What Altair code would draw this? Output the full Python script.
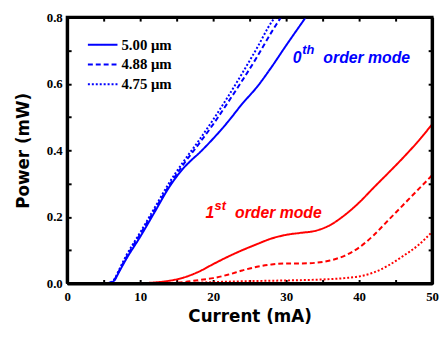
import altair as alt
import pandas as pd

# ---- data ----
I_500 = [0, 5, 6, 6.5, 7, 8, 10, 12, 14, 16, 17, 18, 20, 22, 24, 26, 28, 30, 32, 32.7]
P_500 = [0, 0, 0.003, 0.01, 0.03, 0.07, 0.14, 0.215, 0.29, 0.348, 0.37, 0.39, 0.435, 0.485, 0.54, 0.59, 0.65, 0.715, 0.778, 0.8]
I_488 = [0, 5, 6, 6.5, 7, 8, 10, 12, 14, 16, 18, 20, 22, 24, 26, 28, 29.3]
P_488 = [0, 0, 0.003, 0.012, 0.033, 0.075, 0.148, 0.222, 0.295, 0.36, 0.418, 0.478, 0.543, 0.61, 0.68, 0.755, 0.8]
I_475 = [0, 5, 6, 6.5, 7, 8, 10, 12, 14, 16, 18, 20, 22, 24, 26, 28, 28.5]
P_475 = [0, 0, 0.004, 0.014, 0.036, 0.08, 0.153, 0.228, 0.303, 0.368, 0.428, 0.492, 0.56, 0.632, 0.707, 0.785, 0.8]

I1_500 = [0, 10, 12, 14, 16, 18, 20, 22, 24, 26, 28, 30, 32, 34, 36, 38, 40, 42, 44, 46, 48, 50]
P1_500 = [0, 0.001, 0.003, 0.008, 0.018, 0.035, 0.058, 0.08, 0.1, 0.118, 0.135, 0.146, 0.152, 0.158, 0.175, 0.205, 0.243, 0.288, 0.332, 0.377, 0.425, 0.478]
I1_488 = [0, 14, 16, 18, 20, 22, 24, 26, 28, 30, 32, 34, 36, 38, 40, 42, 44, 46, 48, 50]
P1_488 = [0, 0.001, 0.004, 0.01, 0.016, 0.026, 0.039, 0.05, 0.057, 0.06, 0.06, 0.062, 0.069, 0.083, 0.108, 0.145, 0.19, 0.235, 0.28, 0.325]
I1_475 = [0, 16, 20, 25, 30, 35, 38, 40, 42, 44, 46, 48, 50]
P1_475 = [0, 0.001, 0.004, 0.007, 0.009, 0.012, 0.016, 0.021, 0.033, 0.054, 0.082, 0.113, 0.155]

widths = ["5.00 \u03bcm", "4.88 \u03bcm", "4.75 \u03bcm"]
modes = ["0th", "1st"]

x_dom = [0, 50]
y_dom = [0, 0.8]
x_ticks = [0, 5, 10, 15, 20, 25, 30, 35, 40, 45, 50]
y_ticks = [0.0, 0.1, 0.2, 0.3, 0.4, 0.5, 0.6, 0.7, 0.8]

# annotation text pieces (data coordinates)
ann_text = ["0", "th", "order mode", "1", "st", "order mode"]
ann_x = [30.9, 32.2, 35.1, 18.95, 20.2, 23.0]
ann_y = [0.663, 0.689, 0.663, 0.196, 0.220, 0.196]
ann_mode = ["0th", "0th", "0th", "1st", "1st", "1st"]
ann_size = [16, 13, 16, 16, 13, 16]

# ---- build tables ----
rows = []
for mode, sets in [("0th", [(I_500, P_500), (I_488, P_488), (I_475, P_475)]),
                   ("1st", [(I1_500, P1_500), (I1_488, P1_488), (I1_475, P1_475)])]:
    for w, (xs_, ys_) in zip(widths, sets):
        for k, (a, b) in enumerate(zip(xs_, ys_)):
            rows.append({"I": a, "P": b, "width": w, "mode": mode, "order": k})
df = pd.DataFrame(rows)

ann = pd.DataFrame({"t": ann_text, "x": ann_x, "y": ann_y, "mode": ann_mode, "s": ann_size})

# frame outline around the full scale domains
frame_df = pd.DataFrame({
    "fx": [x_dom[0], x_dom[1], x_dom[1], x_dom[0], x_dom[0]],
    "fy": [y_dom[0], y_dom[0], y_dom[1], y_dom[1], y_dom[0]],
    "k": [0, 1, 2, 3, 4],
})

W, H = 370, 270
xs = alt.Scale(domain=x_dom, nice=False, zero=False)
ys = alt.Scale(domain=y_dom, nice=False, zero=False)
col = alt.Scale(domain=modes, range=["#0000FF", "#FF0000"])
dash = alt.Scale(domain=widths, range=[[1, 0], [5, 3], [2, 2]])

common = dict(domain=True, domainColor="black", domainWidth=3, ticks=True,
              tickColor="black", tickWidth=2, tickSize={"expr": "-4"},
              labelFlush=False, grid=False)

x_bottom = alt.Axis(orient="bottom", values=x_ticks, title="Current (mA)",
                    labelExpr="datum.value % 10 === 0 ? format(datum.value, 'd') : ''",
                    labelPadding=11, titlePadding=6, **common)
y_left = alt.Axis(orient="left", values=y_ticks, title="Power (mW)",
                  labelExpr="round(datum.value * 10) % 2 === 0 ? format(datum.value, '.1f') : ''",
                  labelPadding=9, titlePadding=14, **common)
x_top = alt.Axis(orient="top", values=x_ticks, title=None, labels=False, **common)
y_right = alt.Axis(orient="right", values=y_ticks, title=None, labels=False, **common)

lines = alt.Chart(df).mark_line(strokeWidth=2, clip=True, interpolate="monotone").encode(
    x=alt.X("I:Q", scale=xs, axis=x_bottom),
    y=alt.Y("P:Q", scale=ys, axis=y_left),
    color=alt.Color("mode:N", scale=col, legend=None),
    strokeDash=alt.StrokeDash("width:N", scale=dash, sort=widths, legend=alt.Legend(
        title=None, orient="none", legendX=25, legendY=17, symbolType="M-1.5,0H1.5",
        symbolStrokeColor="#0000FF", symbolStrokeWidth=2, symbolSize=400,
        labelFont="Liberation Serif", labelFontWeight="bold", labelFontSize=15,
        labelColor="black", labelOffset=8, rowPadding=1)),
    detail="mode:N",
    order="order:Q",
)

text = alt.Chart(ann).mark_text(font="Liberation Sans", fontWeight="bold", fontStyle="italic",
                                align="left", baseline="alphabetic").encode(
    x=alt.X("x:Q", scale=xs, axis=x_top),
    y=alt.Y("y:Q", scale=ys, axis=y_right),
    text="t:N",
    size=alt.Size("s:Q", scale=None, legend=None),
    color=alt.Color("mode:N", scale=col, legend=None),
)

frame = alt.Chart(frame_df).mark_line(color="black", strokeWidth=3, strokeJoin="miter").encode(
    x=alt.X("fx:Q", scale=xs, axis=None),
    y=alt.Y("fy:Q", scale=ys, axis=None),
    order="k:Q",
)

chart = alt.layer(lines, text, frame).resolve_axis(x="independent", y="independent").properties(
    width=W, height=H,
    background="white",
    autosize=alt.AutoSizeParams(type="none"),
    padding={"left": 60, "top": 7, "right": 8, "bottom": 50},
).configure_view(strokeWidth=0).configure_axis(
    labelFont="Liberation Serif", labelFontWeight="bold", labelFontSize=13,
    labelColor="black", titleFont="DejaVu Sans", titleFontWeight="bold",
    titleFontSize=17, titleColor="black")

chart.save("out.html", embed_options={"renderer": "svg", "actions": False})
